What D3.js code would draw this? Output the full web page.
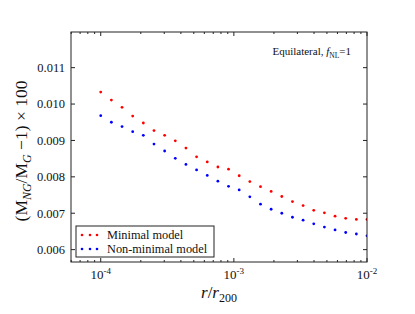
<!DOCTYPE html>
<html>
<head>
<meta charset="utf-8">
<script src="https://cdn.jsdelivr.net/npm/d3@7"></script>
<style>
  body { margin: 0; background: #fff; }
  text { font-family: "Liberation Serif", "DejaVu Serif", serif; fill: #111; }
</style>
</head>
<body>
<div id="chart"></div>
<script>
const width = 415;
const height = 314;

// x positions: 26 log-spaced radii, 1e-4 .. 1e-2
const logR = [-4, -3.92, -3.84, -3.76, -3.68, -3.6, -3.52, -3.44, -3.36, -3.28,
  -3.2, -3.12, -3.04, -2.96, -2.88, -2.8, -2.72, -2.64, -2.56, -2.48,
  -2.4, -2.32, -2.24, -2.16, -2.08, -2];
const radii = logR.map((l) => Math.pow(10, l));

const minimal = [0.01033, 0.01011, 0.00991, 0.00967, 0.00948, 0.00927, 0.00914, 0.00899,
  0.00879, 0.00855, 0.00841, 0.00827, 0.00821, 0.00803, 0.00787, 0.00773,
  0.00760, 0.00746, 0.00732, 0.00721, 0.00708, 0.00701, 0.00692, 0.00686,
  0.00683, 0.00683];
const nonMinimal = [0.00968, 0.00950, 0.00938, 0.00924, 0.00914, 0.00890, 0.00871, 0.00851,
  0.00834, 0.00819, 0.00804, 0.00788, 0.00774, 0.00764, 0.00745, 0.00725,
  0.00711, 0.00700, 0.00689, 0.00681, 0.00671, 0.00662, 0.00654, 0.00647,
  0.00643, 0.00638];

const yTicks = [0.006, 0.007, 0.008, 0.009, 0.010, 0.011];
const xTicks = [1e-4, 1e-3, 1e-2];
const xTickExp = ["-4", "-3", "-2"];

const series = [
  { name: "Minimal model", values: minimal, color: "#ff0000" },
  { name: "Non-minimal model", values: nonMinimal, color: "#0000ff" },
];

const margin = { top: 32, right: 48, bottom: 52, left: 71 };
const iw = width - margin.left - margin.right;
const ih = height - margin.top - margin.bottom;

const x = d3.scaleLog().domain([Math.pow(10, -4.2233), 1e-2]).range([0, iw]);
const y = d3.scaleLinear().domain([0.00566, 0.01198]).range([ih, 0]);

const svg = d3
  .select("#chart")
  .append("svg")
  .attr("width", width)
  .attr("height", height);

svg.append("rect").attr("width", width).attr("height", height).attr("fill", "#fff");

const g = svg.append("g").attr("transform", `translate(${margin.left},${margin.top})`);

g.append("clipPath")
  .attr("id", "clip")
  .append("rect")
  .attr("width", iw)
  .attr("height", ih);

// Points
const pts = g.append("g").attr("clip-path", "url(#clip)");
series.forEach((s) => {
  pts
    .selectAll(null)
    .data(s.values)
    .enter()
    .append("circle")
    .attr("cx", (d, i) => x(radii[i]))
    .attr("cy", (d) => y(d))
    .attr("r", 1.4)
    .attr("fill", s.color);
});

// Minor x ticks
const minor = [];
for (let e = -5; e <= -3; e++) {
  for (let m = 2; m <= 9; m++) {
    const v = m * Math.pow(10, e);
    if (v >= x.domain()[0] && v <= x.domain()[1]) minor.push(v);
  }
}

const tickCol = "#222";
const tg = g.append("g");
minor.forEach((v) => {
  tg.append("line").attr("x1", x(v)).attr("x2", x(v)).attr("y1", ih).attr("y2", ih - 2).attr("stroke", tickCol);
  tg.append("line").attr("x1", x(v)).attr("x2", x(v)).attr("y1", 0).attr("y2", 2).attr("stroke", tickCol);
});
xTicks.forEach((v) => {
  tg.append("line").attr("x1", x(v)).attr("x2", x(v)).attr("y1", ih).attr("y2", ih - 4).attr("stroke", tickCol);
  tg.append("line").attr("x1", x(v)).attr("x2", x(v)).attr("y1", 0).attr("y2", 4).attr("stroke", tickCol);
});
yTicks.forEach((v) => {
  tg.append("line").attr("x1", 0).attr("x2", 4).attr("y1", y(v)).attr("y2", y(v)).attr("stroke", tickCol);
  tg.append("line").attr("x1", iw).attr("x2", iw - 4).attr("y1", y(v)).attr("y2", y(v)).attr("stroke", tickCol);
});

// Frame
g.append("rect")
  .attr("width", iw)
  .attr("height", ih)
  .attr("fill", "none")
  .attr("stroke", "#222")
  .attr("stroke-width", 1);

// Y tick labels
g.selectAll(".ylab")
  .data(yTicks)
  .enter()
  .append("text")
  .attr("x", -6)
  .attr("y", (d) => y(d))
  .attr("dy", "0.35em")
  .attr("text-anchor", "end")
  .style("font-size", "12.5px")
  .text((d) => d3.format(".3f")(d));

// X tick labels
xTicks.forEach((v, i) => {
  const t = g.append("text")
    .attr("x", x(v))
    .attr("y", ih + 17)
    .attr("text-anchor", "middle")
    .style("font-size", "13px");
  t.append("tspan").text("10");
  t.append("tspan").attr("dy", -5).style("font-size", "9px").text(xTickExp[i]);
});

// Axis labels
const xl = svg.append("text")
  .attr("x", margin.left + iw / 2)
  .attr("y", 298)
  .attr("text-anchor", "middle")
  .style("font-size", "17px");
xl.append("tspan").style("font-style", "italic").text("r");
xl.append("tspan").text("/");
xl.append("tspan").style("font-style", "italic").text("r");
xl.append("tspan").attr("dy", 4).style("font-size", "12px").text("200");

const yl = svg.append("text")
  .attr("transform", `translate(27,${margin.top + ih / 2 + 4}) rotate(-90)`)
  .attr("text-anchor", "middle")
  .style("font-size", "17.5px");
yl.append("tspan").text("(M");
yl.append("tspan").attr("dy", 4).style("font-size", "12px").style("font-style", "italic").text("NG");
yl.append("tspan").attr("dy", -4).text("/M");
yl.append("tspan").attr("dy", 4).style("font-size", "12px").style("font-style", "italic").text("G");
yl.append("tspan").attr("dy", -4).text(" \u22121) \u00d7 100");

// Annotation
const ann = g.append("text")
  .attr("x", iw - 16)
  .attr("y", 23)
  .attr("text-anchor", "end")
  .style("font-size", "11px");
ann.append("tspan").text("Equilateral, ");
ann.append("tspan").style("font-style", "italic").text("f");
ann.append("tspan").attr("dy", 3).style("font-size", "7.5px").text("NL");
ann.append("tspan").attr("dy", -3).text("=1");

// Legend
const lg = g.append("g").attr("transform", `translate(5,${194})`);
lg.append("rect")
  .attr("width", 138)
  .attr("height", 31)
  .attr("fill", "#fff")
  .attr("stroke", "#222");
series.forEach((s, i) => {
  const row = lg.append("g").attr("transform", `translate(0,${9 + i * 14})`);
  [6, 14, 21].forEach((cx) => {
    row.append("circle").attr("cx", cx).attr("cy", 0).attr("r", 1.3).attr("fill", s.color);
  });
  row.append("text")
    .attr("x", 31)
    .attr("y", 0)
    .attr("dy", "0.35em")
    .style("font-size", "12.3px")
    .text(s.name);
});
</script>
</body>
</html>
